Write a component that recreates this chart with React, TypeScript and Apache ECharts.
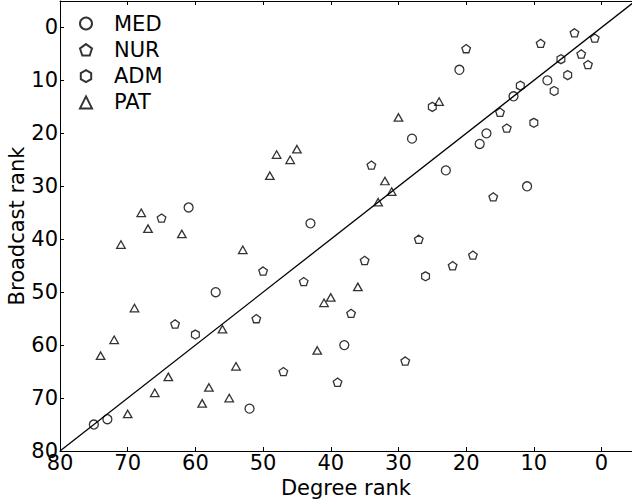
import React, { useEffect, useRef } from "react";
import * as echarts from "echarts";

// [degree rank, broadcast rank]
const medPoints: [number, number][] = [
  [21, 8], [8, 10], [13, 13], [17, 20], [28, 21], [18, 22], [23, 27], [11, 30],
  [61, 34], [43, 37], [57, 50], [38, 60], [52, 72], [73, 74], [75, 75],
];
const nurPoints: [number, number][] = [
  [4, 1], [1, 2], [9, 3], [20, 4], [3, 5], [2, 7], [15, 16], [14, 19], [34, 26],
  [16, 32], [65, 36], [27, 40], [19, 43], [35, 44], [22, 45], [50, 46], [44, 48],
  [37, 54], [51, 55], [63, 56], [29, 63], [47, 65], [39, 67],
];
const admPoints: [number, number][] = [
  [6, 6], [5, 9], [12, 11], [7, 12], [25, 15], [10, 18], [26, 47], [60, 58],
];
const patPoints: [number, number][] = [
  [24, 14], [30, 17], [45, 23], [48, 24], [46, 25], [49, 28], [32, 29], [31, 31],
  [33, 33], [68, 35], [67, 38], [62, 39], [71, 41], [53, 42], [36, 49], [40, 51],
  [41, 52], [69, 53], [56, 57], [72, 59], [42, 61], [74, 62], [54, 64], [64, 66],
  [58, 68], [66, 69], [55, 70], [59, 71], [70, 73],
];
const diagonal: [number, number][] = [[80, 80], [-5, -5]];
const tickValues = [0, 10, 20, 30, 40, 50, 60, 70, 80];
const seriesNames = ["MED", "NUR", "ADM", "PAT"];

const PENTAGON = "path://M0,-1L0.951,-0.309L0.588,0.809L-0.588,0.809L-0.951,-0.309Z";
const HEXAGON = "path://M0,-1L0.866,-0.5L0.866,0.5L0,1L-0.866,0.5L-0.866,-0.5Z";

const FONT = "DejaVu Sans";
const FS = 21;

export default function App() {
  const ref = useRef<HTMLDivElement>(null);
  useEffect(() => {
    if (!ref.current) return;
    const chart = echarts.init(ref.current, undefined, { renderer: "svg" });
    const markerStyle = { color: "transparent", borderColor: "#000", borderWidth: 1.3 };
    const axisCommon = {
      type: "value" as const,
      inverse: true,
      splitLine: { show: false },
      axisLine: { show: true, onZero: false, lineStyle: { color: "#000", width: 1 } },
      axisTick: { show: true, inside: true, length: 4, lineStyle: { color: "#000" }, customValues: tickValues },
    };
    chart.setOption({
      animation: false,
      backgroundColor: "#fff",
      grid: { left: 60, right: 0, top: 1, bottom: 51, containLabel: false, outerBoundsMode: "none" },
      legend: {
        orient: "vertical",
        left: 74,
        top: 8,
        itemWidth: 12,
        itemHeight: 12,
        itemGap: 5.3,
        data: seriesNames,
        textStyle: { fontFamily: FONT, fontSize: FS, color: "#000", lineHeight: 20, padding: [0, 0, 0, 17] },
      },
      xAxis: [
        {
          ...axisCommon,
          position: "bottom",
          min: -4.5,
          max: 80,
          name: "Degree rank",
          nameLocation: "middle",
          nameGap: 26,
          nameMoveOverlap: false,
          nameTextStyle: { fontFamily: FONT, fontSize: FS, color: "#000" },
          axisLabel: { customValues: tickValues, fontFamily: FONT, fontSize: FS, color: "#000", margin: 1 },
        },
        {
          ...axisCommon,
          position: "top",
          min: -4.5,
          max: 80,
          axisLabel: { show: false },
        },
      ],
      yAxis: {
        ...axisCommon,
        min: -5,
        max: 80,
        name: "Broadcast rank",
        nameLocation: "middle",
        nameGap: 33,
        nameMoveOverlap: false,
        nameTextStyle: { fontFamily: FONT, fontSize: FS, color: "#000" },
        axisLabel: { customValues: tickValues, fontFamily: FONT, fontSize: FS, color: "#000", margin: 2 },
      },
      series: [
        {
          name: "diag",
          type: "line",
          data: diagonal,
          showSymbol: false,
          symbol: "none",
          lineStyle: { color: "#000", width: 1.3 },
          silent: true,
          z: 1,
        },
        { name: "MED", type: "scatter", data: medPoints, symbol: "circle", symbolSize: 9, itemStyle: markerStyle, z: 2 },
        { name: "NUR", type: "scatter", data: nurPoints, symbol: PENTAGON, symbolSize: [8.6, 8.2], itemStyle: markerStyle, z: 2 },
        { name: "ADM", type: "scatter", data: admPoints, symbol: HEXAGON, symbolSize: [7.8, 9], itemStyle: markerStyle, z: 2 },
        { name: "PAT", type: "scatter", data: patPoints, symbol: "triangle", symbolSize: [8.5, 7.5], itemStyle: markerStyle, z: 2 },
      ],
    });
    return () => chart.dispose();
  }, []);
  return <div ref={ref} style={{ position: "absolute", left: 0, top: 0, width: 632, height: 502 }} />;
}
